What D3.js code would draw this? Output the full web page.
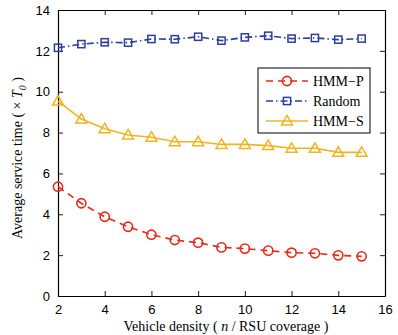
<!DOCTYPE html>
<html>
<head>
<meta charset="utf-8">
<script src="https://cdn.jsdelivr.net/npm/d3@7"></script>
<style>
  body { margin: 0; background: #fff; }
  svg { display: block; }
</style>
</head>
<body>
<div id="chart"></div>
<script>
// vehicle density (x) and the three series
const density = [2, 3, 4, 5, 6, 7, 8, 9, 10, 11, 12, 13, 14, 15];
const hmmP    = [5.35, 4.54, 3.88, 3.39, 3.0, 2.74, 2.61, 2.38, 2.32, 2.22, 2.12, 2.09, 1.99, 1.94];
const random  = [12.15, 12.33, 12.42, 12.4, 12.58, 12.57, 12.69, 12.5, 12.66, 12.74, 12.6, 12.63, 12.55, 12.6];
const hmmS    = [9.54, 8.66, 8.19, 7.88, 7.77, 7.55, 7.55, 7.42, 7.42, 7.36, 7.23, 7.23, 7.03, 7.03];
const xTicks  = [2, 4, 6, 8, 10, 12, 14, 16];
const yTicks  = [0, 2, 4, 6, 8, 10, 12, 14];

const W = 398, H = 335;
const m = { top: 10, right: 13, bottom: 39, left: 58 };
const iw = W - m.left - m.right;
const ih = H - m.top - m.bottom;

const SANS  = "'Liberation Sans', Arial, Helvetica, sans-serif";
const SERIF = "'Liberation Serif', 'Times New Roman', serif";

const series = [
  { name: 'HMM\u2212P',  values: hmmP,   color: '#e8291c', dash: '7,5',        marker: 'circle'   },
  { name: 'Random',      values: random, color: '#2c3e9e', dash: '7,3,1.5,3',  marker: 'square'   },
  { name: 'HMM\u2212S',  values: hmmS,   color: '#f0b41e', dash: null,         marker: 'triangle' }
];

const svg = d3.select('#chart').append('svg')
  .attr('width', W).attr('height', H);

const g = svg.append('g').attr('transform', `translate(${m.left},${m.top})`);

const x = d3.scaleLinear().domain([2, 16]).range([0, iw]);
const y = d3.scaleLinear().domain([0, 14]).range([ih, 0]);

// axes with inward ticks on all four sides
function styleAxis(sel) {
  sel.select('.domain').attr('stroke', '#000').attr('stroke-width', 1.2);
  sel.selectAll('.tick line').attr('stroke', '#000').attr('stroke-width', 0.9);
  sel.selectAll('.tick text').attr('font-family', SANS).attr('font-size', '13px').attr('fill', '#000');
}

g.append('g').attr('transform', `translate(0,${ih})`)
  .call(d3.axisBottom(x).tickValues(xTicks).tickSize(-5).tickSizeOuter(0).tickPadding(9))
  .call(styleAxis);
g.append('g')
  .call(d3.axisTop(x).tickValues(xTicks).tickSize(-5).tickSizeOuter(0).tickFormat(''))
  .call(styleAxis);
g.append('g')
  .call(d3.axisLeft(y).tickValues(yTicks).tickSize(-5).tickSizeOuter(0).tickPadding(8))
  .call(styleAxis);
g.append('g').attr('transform', `translate(${iw},0)`)
  .call(d3.axisRight(y).tickValues(yTicks).tickSize(-5).tickSizeOuter(0).tickFormat(''))
  .call(styleAxis);

// markers
const tri = d3.symbol().type(d3.symbolTriangle).size(52);
function drawMarker(sel, type, color) {
  if (type === 'circle') {
    sel.append('circle').attr('r', 4.6)
      .attr('fill', 'none').attr('stroke', color).attr('stroke-width', 1.6);
  } else if (type === 'square') {
    sel.append('rect').attr('x', -3.6).attr('y', -3.6).attr('width', 7.2).attr('height', 7.2)
      .attr('fill', 'none').attr('stroke', color).attr('stroke-width', 1.5);
  } else {
    sel.append('path').attr('d', tri).attr('transform', 'translate(0,0.8)')
      .attr('fill', 'none').attr('stroke', color).attr('stroke-width', 1.5);
  }
}

const line = d3.line().x((d, i) => x(density[i])).y(d => y(d));

series.forEach(s => {
  g.append('path')
    .datum(s.values)
    .attr('d', line)
    .attr('fill', 'none')
    .attr('stroke', s.color)
    .attr('stroke-width', 1.6)
    .attr('stroke-dasharray', s.dash);
  g.selectAll(null)
    .data(s.values).enter()
    .append('g')
    .attr('transform', (d, i) => `translate(${x(density[i])},${y(d)})`)
    .each(function() { drawMarker(d3.select(this), s.marker, s.color); });
});

// axis titles
svg.append('text')
  .attr('x', 226).attr('y', 331)
  .attr('text-anchor', 'middle')
  .attr('font-family', SERIF).attr('font-size', '14px')
  .call(t => {
    t.append('tspan').text('Vehicle density ( ');
    t.append('tspan').attr('font-style', 'italic').text('n');
    t.append('tspan').text(' / RSU coverage )');
  });

svg.append('text')
  .attr('transform', 'translate(22,158) rotate(-90)')
  .attr('text-anchor', 'middle')
  .attr('font-family', SERIF).attr('font-size', '14px')
  .call(t => {
    t.append('tspan').text('Average service time ( \u00d7 ');
    t.append('tspan').attr('font-style', 'italic').text('T');
    t.append('tspan').attr('font-style', 'italic').attr('font-size', '10px').attr('dy', 4).text('0');
    t.append('tspan').attr('dy', -4).text(' )');
  });

// legend
const leg = svg.append('g').attr('transform', 'translate(258,68)');
leg.append('rect')
  .attr('width', 112).attr('height', 65)
  .attr('fill', '#fff').attr('stroke', '#000').attr('stroke-width', 1);

series.forEach((s, i) => {
  const row = leg.append('g').attr('transform', `translate(0,${13 + i * 20})`);
  row.append('line')
    .attr('x1', 8).attr('x2', 50)
    .attr('stroke', s.color).attr('stroke-width', 1.6)
    .attr('stroke-dasharray', s.dash);
  const mk = row.append('g').attr('transform', 'translate(29,0)');
  drawMarker(mk, s.marker, s.color);
  row.append('text')
    .attr('x', 55).attr('y', 5)
    .attr('font-family', SERIF).attr('font-size', '14px')
    .text(s.name);
});
</script>
</body>
</html>
